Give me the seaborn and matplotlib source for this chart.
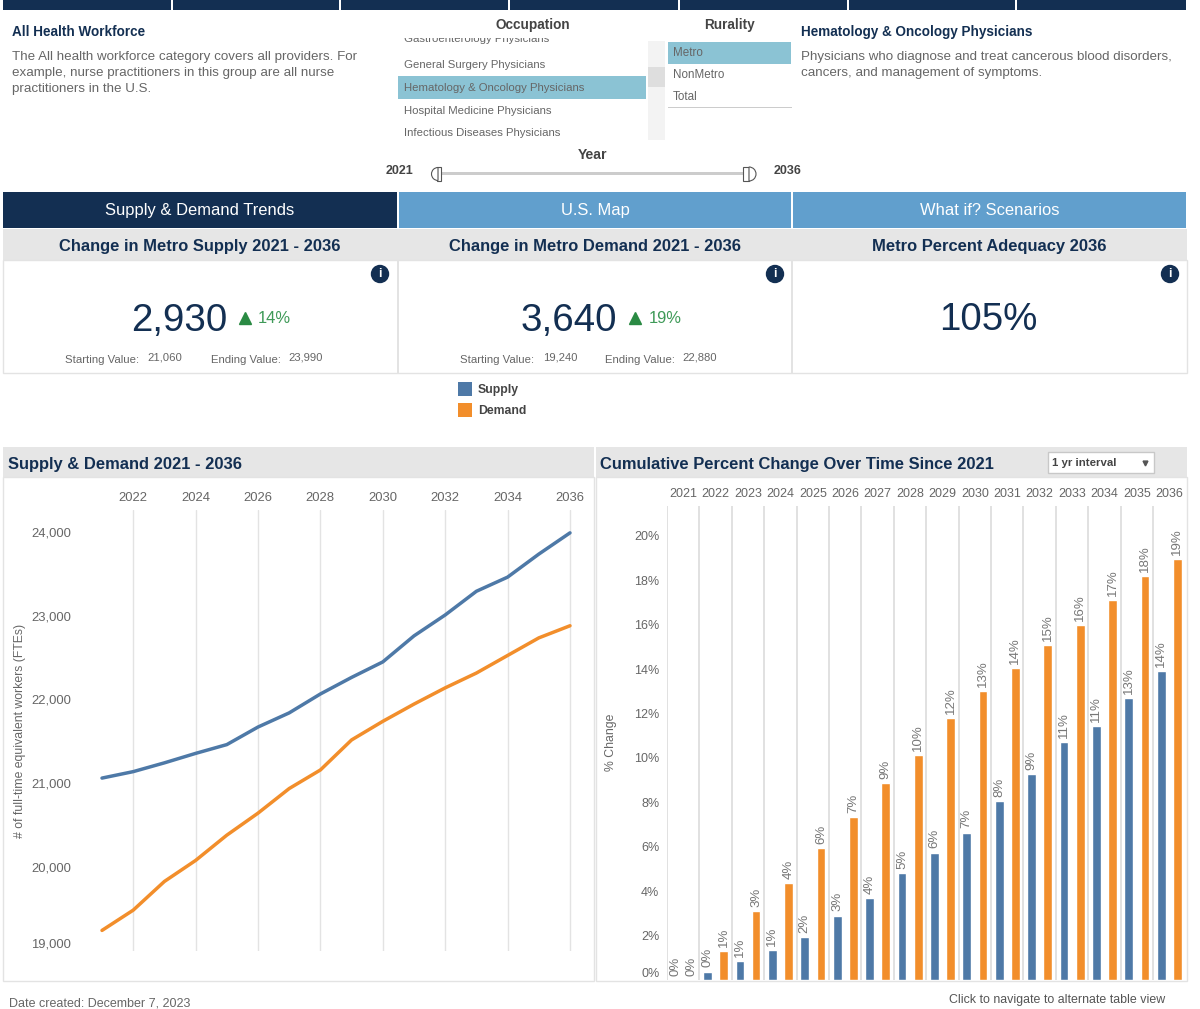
"""
Supply and demand dashboard for Hematology & Oncology Physicians
"""
import matplotlib.pyplot as plt
from matplotlib.patches import Rectangle, Circle, Wedge
import pandas as pd
import seaborn as sns

years = list(range(2021, 2037))
supply_fte = [21060, 21137, 21242, 21355, 21460, 21670, 21839, 22065,
              22263, 22448, 22759, 23009, 23292, 23461, 23736, 23990]
demand_fte = [19240, 19482, 19825, 20076, 20378, 20641, 20935, 21157,
              21516, 21738, 21944, 22138, 22315, 22525, 22735, 22880]
supply_pct = [0, 0.38, 0.85, 1.36, 1.92, 2.9, 3.7, 4.8,
              5.74, 6.64, 8.05, 9.27, 10.7, 11.45, 12.7, 13.9]
demand_pct = [0, 1.3, 3.1, 4.38, 5.94, 7.35, 8.86, 10.14,
              11.8, 13.0, 14.05, 15.1, 16.0, 17.1, 18.2, 18.95]
line_ticks = [19000, 20000, 21000, 22000, 23000, 24000]
pct_ticks = [0, 2, 4, 6, 8, 10, 12, 14, 16, 18, 20]
occupations = ["Gastroenterology Physicians", "General Surgery Physicians",
               "Hematology & Oncology Physicians", "Hospital Medicine Physicians",
               "Infectious Diseases Physicians"]
ruralities = ["Metro", "NonMetro", "Total"]
tabs = ["Supply & Demand Trends", "U.S. Map", "What if? Scenarios"]

NAVY = "#132f52"
BLUE = "#4e79a7"
ORANGE = "#f28e2b"
GREY = "#666666"
PANEL = "#e6e6e6"
palette = {"Supply": BLUE, "Demand": ORANGE}

sns.set_theme(style="white")
plt.rcParams["font.family"] = ["Liberation Sans", "DejaVu Sans"]

W, H = 1200, 1009
fig = plt.figure(figsize=(W / 100, H / 100), dpi=100)

# page in pixel coordinates, for everything around the two charts
bg = fig.add_axes([0, 0, 1, 1])
bg.set_xlim(0, W)
bg.set_ylim(H, 0)
bg.axis("off")


def box(x0, y0, x1, y1, color, edge="none", lw=0):
    p = Rectangle((x0, y0), x1 - x0, y1 - y0, facecolor=color, edgecolor=edge, linewidth=lw)
    bg.add_patch(p)
    return p


def txt(x, y, s, px, color=GREY, weight="normal", ha="left"):
    return bg.text(x, y + 1, s, fontsize=px * 0.72, color=color, fontweight=weight, ha=ha, va="center")


def axes_px(x0, y0, x1, y1):
    ax = fig.add_axes([x0 / W, 1 - y1 / H, (x1 - x0) / W, (y1 - y0) / H])
    ax.patch.set_alpha(0)
    sns.despine(ax=ax, left=True, bottom=True)
    return ax


# top strip
box(3, 0, 1186, 10, NAVY)
for x in [172, 340, 509, 679, 848, 1016]:
    box(x - 0.6, 0, x + 0.6, 10, "white")

# descriptions
txt(12, 31, "All Health Workforce", 13.5, NAVY, "bold")
for y, s in zip([56, 72, 88], ["The All health workforce category covers all providers. For",
                               "example, nurse practitioners in this group are all nurse",
                               "practitioners in the U.S."]):
    txt(12, y, s, 13.4)
txt(801, 31, "Hematology & Oncology Physicians", 13.5, NAVY, "bold")
for y, s in zip([56, 72], ["Physicians who diagnose and treat cancerous blood disorders,",
                           "cancers, and management of symptoms."]):
    txt(801, y, s, 13.4)

# occupation filter, the first row is cut off by the list's top edge
txt(533, 24, "Occupation", 13.6, "#444444", "bold", "center")
box(398, 76, 646, 99, "#8bc3d4")
list_clip = Rectangle((398, 38), 250, 102, transform=bg.transData)
for y, s in zip([38.5, 64, 87, 110, 132], occupations):
    t = txt(404, y, s, 11.4)
    t.set_clip_path(list_clip)
    t.set_clip_on(True)
box(648, 41, 665, 140, "#f3f3f3")
box(648, 67, 665, 87, "#dedede")

# rurality filter
txt(729, 24, "Rurality", 13.5, "#444444", "bold", "center")
box(668, 42, 791, 64, "#8bc3d4")
for y, s in zip([52, 74, 96], ruralities):
    txt(673, y, s, 11.6)
box(668, 107, 792, 108, "#cccccc")

# year slider
txt(593, 154, "Year", 14, "#444444", "bold", "center")
txt(400, 170, "2021", 12.5, "#444444", "bold", "center")
txt(788, 170, "2036", 12.5, "#444444", "bold", "center")
box(438, 172, 750, 175, "#cccccc")
box(437, 167, 441, 181, "white", "#555555", 0.8)
bg.add_patch(Wedge((438, 174), 6.5, 90, 270, facecolor="white", edgecolor="#555555", linewidth=0.8))
box(743, 167, 749, 181, "white", "#555555", 0.8)
bg.add_patch(Wedge((749, 174), 7, -90, 90, facecolor="white", edgecolor="#555555", linewidth=0.8))

# navigation tabs
for (x0, x1), s, c in zip([(3, 397), (399, 791), (793, 1186)], tabs, [NAVY, "#619fcd", "#619fcd"]):
    box(x0, 192, x1, 228, c)
    txt((x0 + x1) / 2, 209.5, s, 16.5, "white", "normal", "center")

# KPI cards
box(3, 229, 1187, 260, PANEL)
box(3, 260, 1187, 373, "white", "#e3e3e3", 1)
for x in [398, 792]:
    box(x - 0.8, 260, x + 0.8, 373, "#e3e3e3")
cards = [
    (200, "Change in Metro Supply 2021 - 2036", 179, "2,930", 245, 258, "14%",
     (65, 147, 211, 288), "21,060", "23,990"),
    (595, "Change in Metro Demand 2021 - 2036", 569, "3,640", 635, 649, "19%",
     (460, 543, 605, 682), "19,240", "22,880"),
]
for cx, title, nx, num, tx, px, pct, sx, start, end in cards:
    txt(cx, 245, title, 16.5, NAVY, "bold", "center")
    txt(nx, 319.5, num, 38.5, NAVY, "normal", "center")
    bg.plot([tx], [318], marker="^", color="#2a8a43", markersize=8.5, linestyle="none")
    txt(px, 317.5, pct, 16.5, "#3f9a58")
    txt(sx[0], 359, "Starting Value:", 11.4)
    txt(sx[1], 356.5, start, 11.3)
    txt(sx[2], 359, "Ending Value:", 11.4)
    txt(sx[3], 356.5, end, 11.3)
txt(989, 245, "Metro Percent Adequacy 2036", 16.5, NAVY, "bold", "center")
txt(988, 319.5, "105%", 38.5, NAVY, "normal", "center")
for ix in [380, 775, 1170]:
    bg.add_patch(Circle((ix, 274), 8.5, color=NAVY))
    txt(ix, 273, "i", 12, "white", "bold", "center")

# legend
for y, s, c in zip([382, 403], ["Supply", "Demand"], [BLUE, ORANGE]):
    box(458, y, 472, y + 14, c)
    txt(478, y + 7.5, s, 12.3, "#444444", "bold")

# section headers and panel frames
box(3, 447, 594, 477, PANEL)
box(596, 447, 1187, 477, PANEL)
box(3, 477, 594, 981, "white", "#e3e3e3", 1)
box(596, 477, 1187, 981, "white", "#e3e3e3", 1)
txt(8, 463, "Supply & Demand 2021 - 2036", 16.5, NAVY, "bold")
txt(600, 463, "Cumulative Percent Change Over Time Since 2021", 16.5, NAVY, "bold")
box(1048, 452, 1154, 473, "white", "#c8c8c8", 1)
txt(1052, 462, "1 yr interval", 11.4, "#444444", "bold")
bg.plot([1145], [463], marker="v", color="#555555", markersize=3.5, linestyle="none")

# footer
txt(9, 1003, "Date created: December 7, 2023", 12.5)
txt(949, 999, "Click to navigate to alternate table view", 12.4, "#555555")

# %% Supply and demand lines
lines = pd.DataFrame({
    "year": years * 2,
    "fte": supply_fte + demand_fte,
    "series": ["Supply"] * len(years) + ["Demand"] * len(years),
})
ax = axes_px(75, 510, 590, 950.5)
sns.lineplot(data=lines, x="year", y="fte", hue="series", palette=palette, linewidth=2.5,
             legend=False, ax=ax)
ax.set_xlim(2021 - 27 / 31.2, 2021 + 488 / 31.2)
ax.set_ylim(19000, 24263)
ax.xaxis.tick_top()
ax.set_xticks(years[1::2])
ax.set_yticks(line_ticks, [f"{v:,}" for v in line_ticks])
ax.tick_params(length=0, labelsize=9.4, labelcolor=GREY)
ax.tick_params(axis="x", pad=4)
ax.tick_params(axis="y", pad=3)
ax.get_yticklabels()[0].set_verticalalignment("bottom")
ax.grid(True, axis="x", color="#e3e3e3", linewidth=1)
ax.set_axisbelow(True)
ax.set_xlabel("")
ax.set_ylabel("")
txt(20, 730, "# of full-time equivalent workers (FTEs)", 12.3).set(rotation=90, ha="center")

# %% Cumulative percent change bars
bars = pd.DataFrame({
    "year": years * 2,
    "pct": supply_pct + demand_pct,
    "series": ["Supply"] * len(years) + ["Demand"] * len(years),
})
ax2 = axes_px(667, 506, 1185.5, 980)
sns.barplot(data=bars, x="year", y="pct", hue="series", palette=palette, width=1, gap=0.46,
            saturation=1, legend=False, ax=ax2)
ax2.set_xlim(-0.5, len(years) - 0.5)
ax2.set_ylim(0, 21.35)
for i in range(len(years)):
    ax2.axvline(i - 0.5, color="#d9d9d9", linewidth=1.1, zorder=0)
for container in ax2.containers:
    ax2.bar_label(container, fmt="%.0f%%", rotation=90, padding=3, fontsize=9.5, color="#777777")
ax2.xaxis.tick_top()
ax2.set_yticks(pct_ticks, [f"{v}%" for v in pct_ticks])
ax2.tick_params(length=0, labelsize=9, labelcolor=GREY)
ax2.tick_params(axis="x", pad=4)
ax2.tick_params(axis="y", pad=5.5)
ax2.get_yticklabels()[0].set_verticalalignment("bottom")
ax2.set_xlabel("")
ax2.set_ylabel("")
txt(611, 741, "% Change", 12.3).set(rotation=90, ha="center")

fig.savefig("out.png", dpi=100)
